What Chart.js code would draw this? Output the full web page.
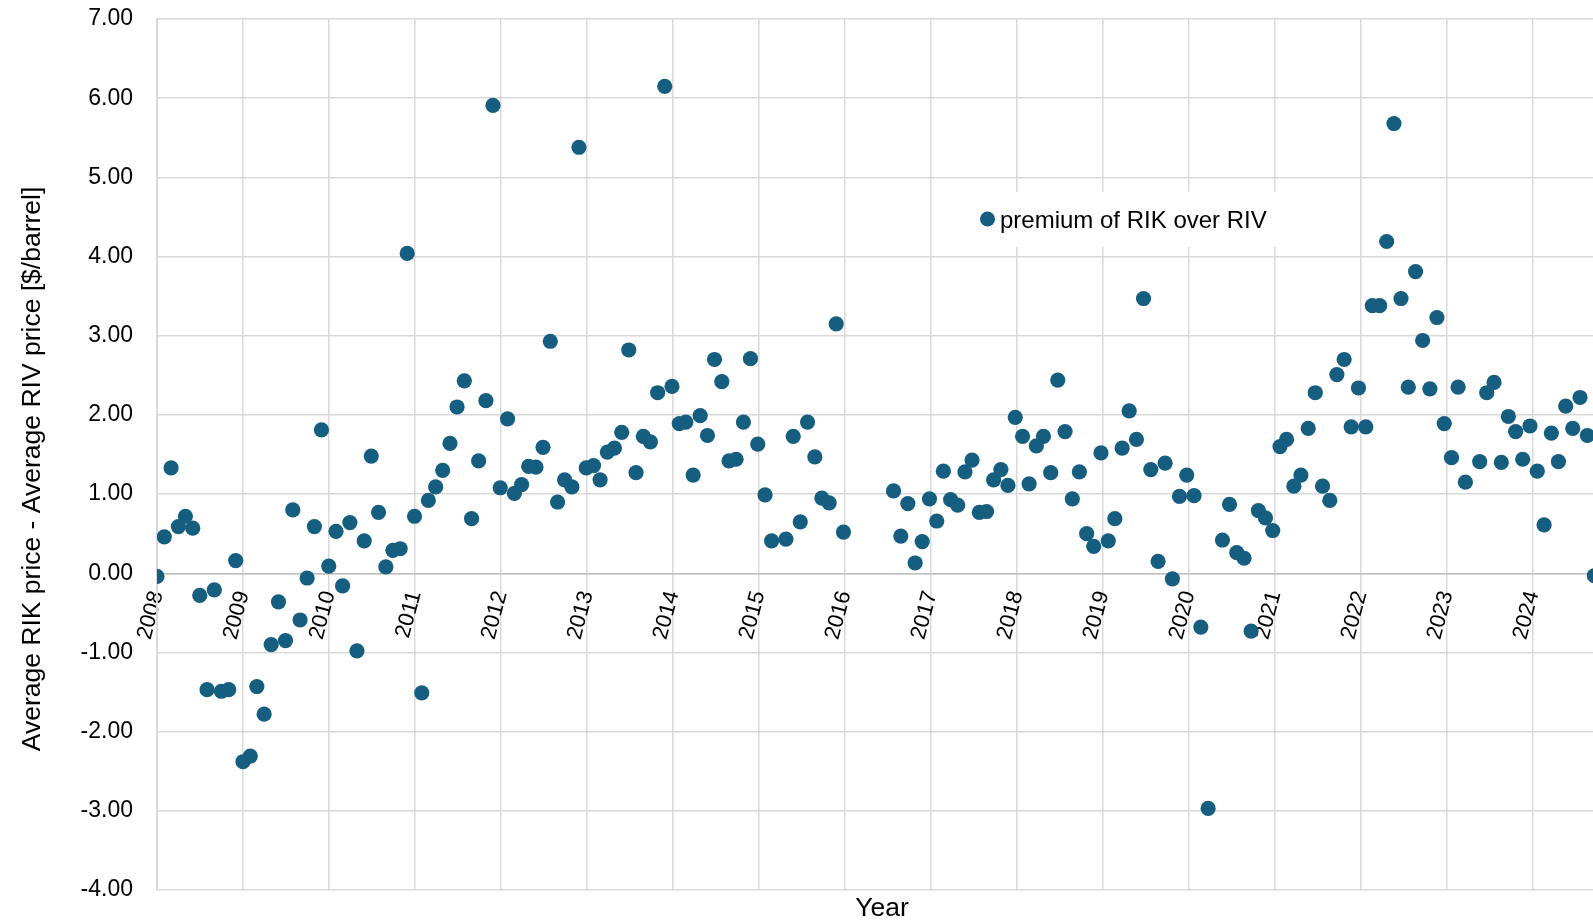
<!DOCTYPE html>
<html>
<head>
<meta charset="utf-8">
<script src="https://cdn.jsdelivr.net/npm/chart.js@4.4.1/dist/chart.umd.min.js"></script>
<style>
html, body { margin: 0; padding: 0; background: #fff; }
#wrap { width: 1593px; height: 921px; }
</style>
</head>
<body>
<div id="wrap"><canvas id="chart" width="1593" height="921"></canvas></div>
<script>
'use strict';

// monthly premium of RIK over RIV, $/barrel (null = no value that month)
const y2008 = [-0.04, 0.46, 1.33, 0.59, 0.72, 0.57, -0.28, -1.47, -0.21, -1.49, -1.47, 0.16]
const y2009 = [-2.38, -2.31, -1.43, -1.78, -0.90, -0.36, -0.85, 0.80, -0.59, -0.06, 0.59, 1.81]
const y2010 = [0.09, 0.53, -0.16, 0.64, -0.98, 0.41, 1.48, 0.77, 0.08, 0.29, 0.31, 4.04]
const y2011 = [0.72, -1.51, 0.92, 1.09, 1.30, 1.64, 2.10, 2.43, 0.69, 1.42, 2.18, 5.91]
const y2012 = [1.08, 1.95, 1.01, 1.12, 1.35, 1.34, 1.59, 2.93, 0.90, 1.18, 1.09, 5.38]
const y2013 = [1.33, 1.36, 1.18, 1.53, 1.58, 1.78, 2.82, 1.27, 1.73, 1.66, 2.28, 6.15]
const y2014 = [2.36, 1.89, 1.91, 1.24, 1.99, 1.74, 2.70, 2.42, 1.42, 1.44, 1.91, 2.71]
const y2015 = [1.63, 0.99, 0.41, null, 0.43, 1.73, 0.65, 1.91, 1.47, 0.95, 0.89, 3.15]
const y2016 = [0.52, null, null, null, null, null, null, 1.04, 0.47, 0.88, 0.13, 0.40]
const y2017 = [0.94, 0.66, 1.29, 0.93, 0.86, 1.28, 1.43, 0.77, 0.78, 1.18, 1.31, 1.11]
const y2018 = [1.97, 1.73, 1.13, 1.61, 1.73, 1.27, 2.44, 1.79, 0.94, 1.28, 0.50, 0.34]
const y2019 = [1.52, 0.41, 0.69, 1.58, 2.05, 1.69, 3.47, 1.31, 0.15, 1.39, -0.07, 0.97]
const y2020 = [1.24, 0.98, -0.68, -2.97, null, 0.42, 0.87, 0.26, 0.19, -0.73, 0.79, 0.70]
const y2021 = [0.54, 1.60, 1.69, 1.10, 1.24, 1.83, 2.28, 1.10, 0.92, 2.51, 2.70, 1.85]
const y2022 = [2.34, 1.85, 3.38, 3.38, 4.19, 5.68, 3.47, 2.35, 3.81, 2.94, 2.33, 3.23]
const y2023 = [1.89, 1.46, 2.35, 1.15, null, 1.41, 2.28, 2.41, 1.40, 1.98, 1.79, 1.44]
const y2024 = [1.86, 1.29, 0.61, 1.77, 1.41, 2.11, 1.83, 2.22, 1.74, -0.03]

const years = [2008, 2009, 2010, 2011, 2012, 2013, 2014, 2015, 2016, 2017, 2018, 2019, 2020, 2021, 2022, 2023, 2024]
const byYear = [y2008, y2009, y2010, y2011, y2012, y2013, y2014, y2015, y2016, y2017, y2018, y2019, y2020, y2021, y2022, y2023, y2024]

const seriesLabel = 'premium of RIK over RIV'
const xTitle = 'Year'
const yTitle = 'Average RIK price - Average RIV price [$/barrel]'
const yTicks = [-4, -3, -2, -1, 0, 1, 2, 3, 4, 5, 6, 7]

const fontFamily = '"Liberation Sans", Arial, sans-serif'
const dotColor = '#165e80'

// first day of month -> position on the year axis (days counted in 366-day years, as in the source sheet)
const DAY = 86400000
const axisStart = Date.UTC(years[0], 0, 1)
function monthPos(year, m) {
	return years[0] + (Date.UTC(year, m, 1) - axisStart) / DAY / 366
}

var points = []
years.forEach((yr, i) => {
	byYear[i].forEach((v, m) => {
		if (v !== null) points.push({x: monthPos(yr, m), y: v})
	})
})

// legend box sitting inside the plot, with a white backing
const legendBox = {
	id: 'legendBox',
	afterDatasetsDraw(chart) {
		var c = chart.ctx, ds = chart.data.datasets[0]
		c.save()
		c.fillStyle = '#fff'
		c.fillRect(962, 192, 322, 55)
		c.fillStyle = ds.backgroundColor
		c.beginPath()
		c.arc(987.5, 219, 7.5, 0, Math.PI * 2)
		c.fill()
		c.fillStyle = '#000'
		c.font = '24px ' + fontFamily
		c.textBaseline = 'alphabetic'
		c.fillText(ds.label, 1000, 228)
		c.restore()
	}
}

// axis titles, placed where the original sheet put them
const axisTitles = {
	id: 'axisTitles',
	afterDraw(chart) {
		var c = chart.ctx
		c.save()
		c.fillStyle = '#000'
		c.font = '26.5px ' + fontFamily
		c.textAlign = 'center'
		c.textBaseline = 'middle'
		c.fillText(xTitle, 882, 909)
		c.translate(33, 469)
		c.rotate(-Math.PI / 2)
		c.fillText(yTitle, 0, 0)
		c.restore()
	}
}

var chart = new Chart(document.getElementById('chart').getContext('2d'), {
	type: 'scatter',
	data: {
		datasets: [{
			label: seriesLabel,
			data: points,
			backgroundColor: dotColor,
			borderWidth: 0,
			pointRadius: 7.6,
			pointHoverRadius: 7.6
		}]
	},
	options: {
		responsive: false,
		animation: false,
		devicePixelRatio: 1,
		layout: {autoPadding: false, padding: {top: 19, right: 0, bottom: 31, left: 0}},
		plugins: {legend: {display: false}, tooltip: {enabled: false}},
		scales: {
			x: {
				type: 'linear',
				position: {y: 0},
				min: years[0],
				max: 2024.7,
				grid: {color: '#d9d9d9', lineWidth: 1.5, drawTicks: false},
				border: {color: '#bfbfbf', width: 1.5},
				ticks: {
					stepSize: 1,
					includeBounds: false,
					autoSkip: false,
					minRotation: 75,
					maxRotation: 75,
					padding: 15,
					color: '#000',
					font: {size: 22, family: fontFamily},
					callback: (v) => String(v)
				},
				afterFit: (s) => { s.paddingLeft = 0; s.paddingRight = 0 }
			},
			y: {
				min: yTicks[0],
				max: yTicks[yTicks.length - 1],
				grid: {color: '#d9d9d9', lineWidth: 1.5, drawTicks: true, tickLength: 24, tickColor: 'rgba(0,0,0,0)'},
				border: {color: '#d9d9d9', width: 2},
				ticks: {
					stepSize: 1,
					padding: 0,
					color: '#000',
					font: {size: 23, family: fontFamily},
					callback: (v) => v.toFixed(2)
				},
				afterFit: (s) => { s.width = 157 }
			}
		}
	},
	plugins: [legendBox, axisTitles]
})
</script>
</body>
</html>
